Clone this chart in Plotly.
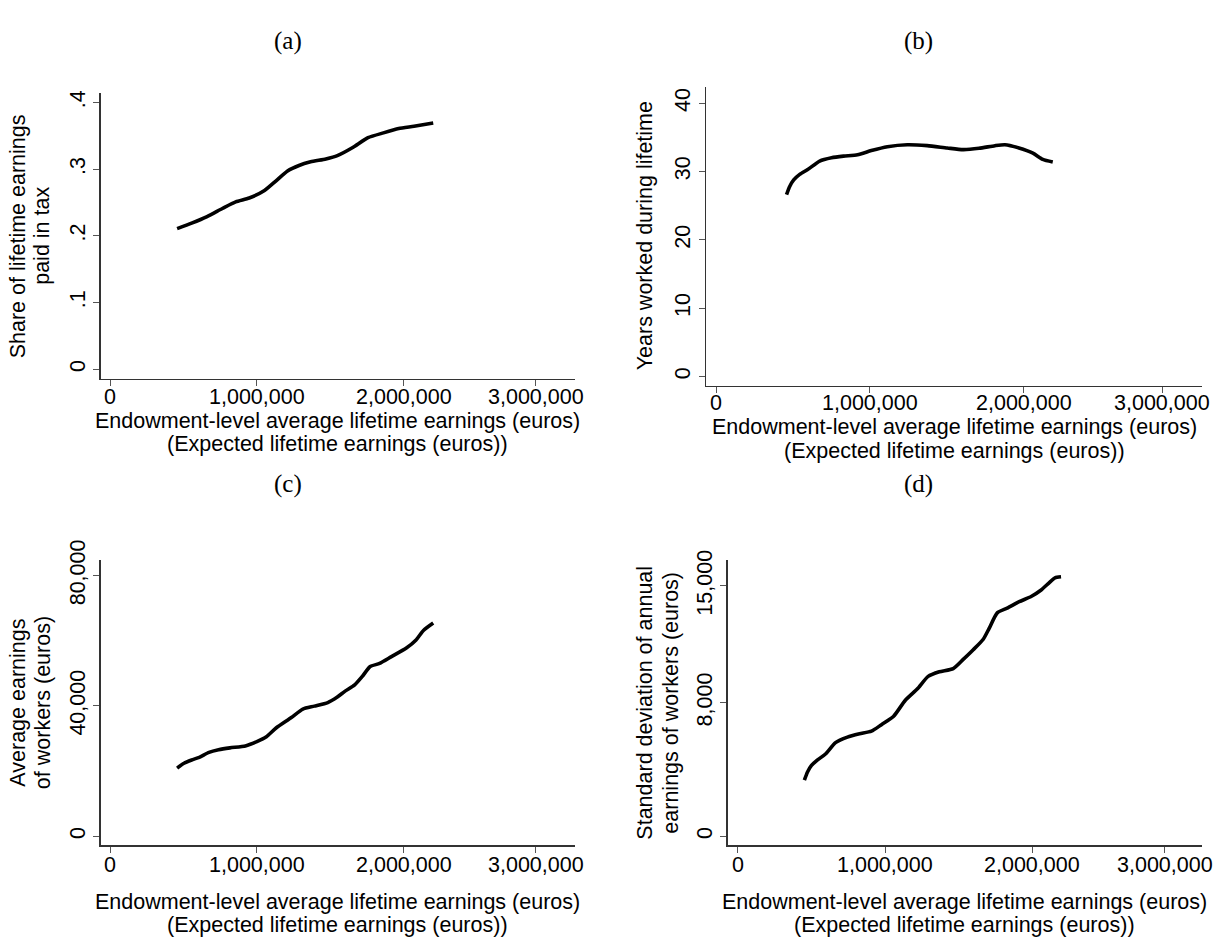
import plotly.graph_objects as go

W, H = 1225, 940

# ---------------- data ----------------
# (a) Share of lifetime earnings paid in tax
a_x = [457000, 556000, 661000, 765000, 856000, 948000, 1052000, 1131000, 1209000, 1287000,
       1366000, 1470000, 1548000, 1653000, 1757000, 1862000, 1966000, 2070000, 2201000]
a_y = [0.2108, 0.219, 0.2289, 0.241, 0.251, 0.2567, 0.268, 0.2826, 0.2973, 0.3056,
       0.311, 0.3154, 0.3203, 0.3325, 0.3472, 0.3545, 0.3609, 0.3643, 0.3692]

# (b) Years worked during lifetime
b_x = [458500, 479000, 505000, 544000, 596000, 674000, 751000, 829000, 920000, 1010000,
       1114000, 1244000, 1373000, 1503000, 1606000, 1710000, 1813000, 1878000, 1969000,
       2060000, 2124000, 2189000]
b_y = [26.62, 27.81, 28.77, 29.58, 30.30, 31.54, 32.02, 32.26, 32.45, 33.07,
       33.64, 33.93, 33.79, 33.45, 33.21, 33.40, 33.79, 33.93, 33.45,
       32.69, 31.78, 31.40]

# (c) Average earnings of workers (euros)
c_x = [457000, 504000, 556000, 608000, 674000, 739000, 817000, 922000, 1000000, 1065000,
       1131000, 1235000, 1313000, 1392000, 1483000, 1548000, 1601000, 1666000, 1718000,
       1770000, 1836000, 1914000, 2018000, 2084000, 2136000, 2201000]
c_y = [20920, 22420, 23420, 24220, 25730, 26530, 27130, 27730, 29030, 30530,
       33230, 36440, 39040, 39940, 41040, 42740, 44540, 46450, 49050,
       52050, 53050, 55060, 57760, 60260, 63260, 65470]

# (d) Standard deviation of annual earnings of workers (euros)
d_x = [452600, 474000, 501000, 542000, 596000, 664000, 745000, 827000, 908000, 976000,
       1057000, 1138000, 1220000, 1293000, 1369000, 1463000, 1531000, 1599000, 1667000,
       1707000, 1762000, 1829000, 1911000, 1992000, 2060000, 2114000, 2154000, 2195000]
d_y = [3363, 3852, 4243, 4576, 4928, 5612, 5944, 6140, 6296, 6688,
       7176, 8154, 8838, 9582, 9855, 10050, 10600, 11180, 11810,
       12460, 13390, 13670, 14060, 14370, 14760, 15190, 15490, 15550]

x_tickvals = [0, 1000000, 2000000, 2900000]
x_ticktext = ["0", "1,000,000", "2,000,000", "3,000,000"]

a_ticks = [0, 0.1, 0.2, 0.3, 0.4]
a_ticktext = ["0", ".1", ".2", ".3", ".4"]
b_ticks = [0, 10, 20, 30, 40]
b_ticktext = ["0", "10", "20", "30", "40"]
c_ticks = [0, 40000, 80000]
c_ticktext = ["0", "40,000", "80,000"]
d_ticks = [0, 8000, 15000]
d_ticktext = ["0", "8,000", "15,000"]

panel_titles = ["(a)", "(b)", "(c)", "(d)"]
x_title_1 = "Endowment-level average lifetime earnings (euros)"
x_title_2 = "(Expected lifetime earnings (euros))"
y_titles = [["Share of lifetime earnings", "paid in tax"],
            ["Years worked during lifetime"],
            ["Average earnings", "of workers (euros)"],
            ["Standard deviation of annual", "earnings of workers (euros)"]]

# ---------------- layout helpers ----------------
SANS = "Liberation Sans, Arial, Helvetica, sans-serif"
SERIF = "Liberation Serif, Times New Roman, serif"
FS = 21.5


def px(x):
    return x / W


def py(y):
    return 1 - y / H


# plot areas in pixels: (left, right, top, bottom)
areas = [(100.7, 574.7, 75, 367),
         (706, 1202, 68.3, 373.7),
         (100.7, 574.7, 551.7, 843.3),
         (727.7, 1202, 551.7, 843.3)]
x_ranges = [[-63300, 3164400], [-65000, 3159000], [-63300, 3164400], [-67900, 3152000]]
y_ranges = [[-0.0151, 0.4137], [-1.35, 42.4], [-2794, 84806], [-545, 16560]]
y_tick_sets = [(a_ticks, a_ticktext), (b_ticks, b_ticktext), (c_ticks, c_ticktext), (d_ticks, d_ticktext)]
series = [(a_x, a_y), (b_x, b_y), (c_x, c_y), (d_x, d_y)]

# vertical centres (px) of x tick labels and the two x-title lines
x_tick_label_y = [385, 391.7, 863.3, 863.3]
x_title_y = [(409.5, 433.7), (416.2, 440.4), (900.8, 925), (900.8, 925)]

fig = go.Figure()
layout = dict(width=W, height=H, margin=dict(l=0, r=0, t=0, b=0),
              paper_bgcolor="white", plot_bgcolor="white", showlegend=False,
              font=dict(family=SANS, size=FS, color="black"))

annotations = []
AXIS_COLOR = "#333333"
for i in range(4):
    n = "" if i == 0 else str(i + 1)
    l, r, t, b = areas[i]
    xs, ys = series[i]
    fig.add_trace(go.Scatter(x=xs, y=ys, mode="lines",
                             line=dict(color="black", width=3.6, shape="spline", smoothing=0.6),
                             xaxis="x" + n, yaxis="y" + n, hoverinfo="skip"))
    layout["xaxis" + n] = dict(domain=[px(l), px(r)], range=x_ranges[i], anchor="y" + n,
                               tickvals=x_tickvals, ticks="outside", ticklen=6, showticklabels=False,
                               tickcolor="#555555", tickwidth=1, showline=True, linecolor=AXIS_COLOR,
                               linewidth=1.3, showgrid=False, zeroline=False)
    # x tick labels placed at the axis' own tick values
    for v, txt in zip(x_tickvals, x_ticktext):
        annotations.append(dict(x=v, xref="x" + n, y=py(x_tick_label_y[i]), yref="paper", text=txt,
                                showarrow=False, xanchor="center", yanchor="middle", borderpad=0,
                                font=dict(family=SANS, size=FS, color="black")))
    yt, ytt = y_tick_sets[i]
    layout["yaxis" + n] = dict(domain=[py(b), py(t)], range=y_ranges[i], anchor="x" + n,
                               tickvals=yt, ticktext=ytt, ticks="outside", ticklen=6,
                               tickcolor="#555555", tickwidth=1, showline=True, linecolor=AXIS_COLOR,
                               linewidth=1.3, showgrid=False, zeroline=False, tickangle=-90,
                               tickfont=dict(family=SANS, size=FS, color="black"))

# panel titles
title_pos = [(288, 21), (918, 21), (288, 474), (918, 474)]
for (tx, ty), txt in zip(title_pos, panel_titles):
    annotations.append(dict(x=px(tx), y=py(ty), xref="paper", yref="paper", text=txt, showarrow=False,
                            xanchor="center", yanchor="middle", borderpad=0,
                            font=dict(family=SERIF, size=25, color="black")))

# x axis titles (two lines each)
for i in range(4):
    l, r, t, b = areas[i]
    cx = (l + r) / 2
    for txt, yy in zip([x_title_1, x_title_2], x_title_y[i]):
        annotations.append(dict(x=px(cx), y=py(yy), xref="paper", yref="paper", text=txt, showarrow=False,
                                xanchor="center", yanchor="middle", borderpad=0,
                                font=dict(family=SANS, size=FS, color="black")))

# y axis titles (rotated)
y_title_x = [(18, 42.5), (645,), (18, 42.5), (645, 671)]
y_title_cy = [221, 221, 697.5, 697.5]
for i in range(4):
    for txt, xx in zip(y_titles[i], y_title_x[i]):
        annotations.append(dict(x=px(xx), y=py(y_title_cy[i]), xref="paper", yref="paper", text=txt,
                                showarrow=False, textangle=-90, xanchor="center", yanchor="middle",
                                borderpad=0, font=dict(family=SANS, size=FS, color="black")))

layout["annotations"] = annotations
fig.update_layout(**layout)
fig.write_html("out.html", config={"displayModeBar": False, "staticPlot": True},
               post_script="document.body.style.margin='0';document.body.style.overflow='hidden';"
                           "document.documentElement.style.overflow='hidden';")
